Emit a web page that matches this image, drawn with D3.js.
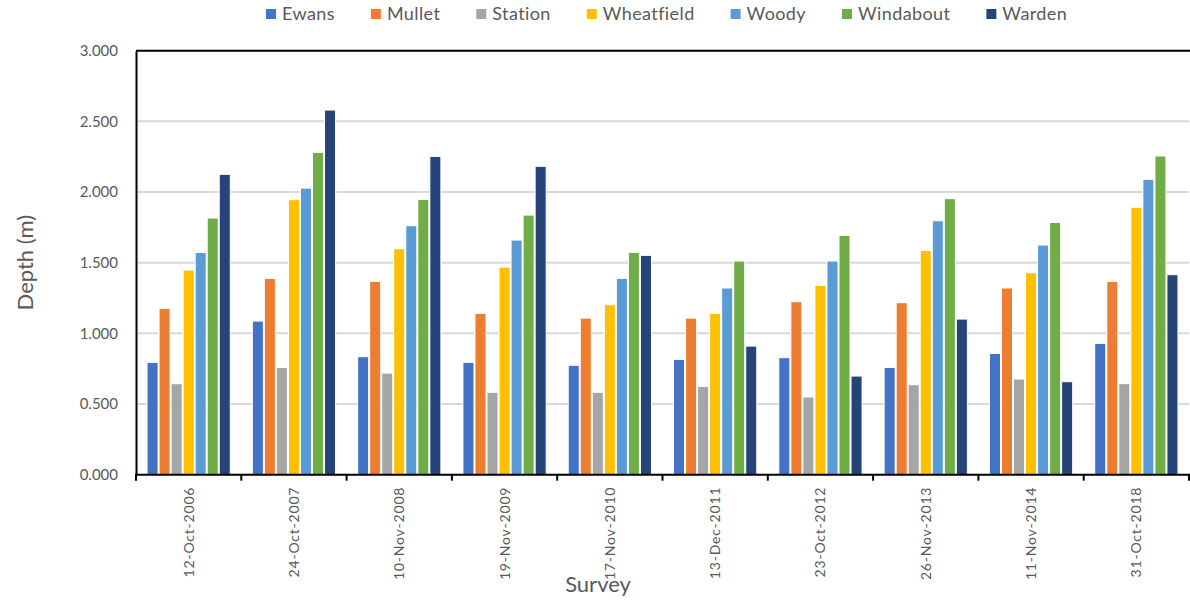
<!DOCTYPE html>
<html>
<head>
<meta charset="utf-8">
<script src="https://cdn.jsdelivr.net/npm/d3@7"></script>
<style>
  html, body { margin: 0; padding: 0; background: #fff; }
  svg { display: block; font-family: Lato, "Open Sans", sans-serif; }
</style>
</head>
<body>
<svg id="chart" width="1190" height="601"></svg>
<script>
// Survey dates (categories)
const surveys = ["12-Oct-2006", "24-Oct-2007", "10-Nov-2008", "19-Nov-2009", "17-Nov-2010",
                 "13-Dec-2011", "23-Oct-2012", "26-Nov-2013", "11-Nov-2014", "31-Oct-2018"];

// Site names (series)
const sites = ["Ewans", "Mullet", "Station", "Wheatfield", "Woody", "Windabout", "Warden"];

// Depth (m) per site, one value per survey
const ewans      = [0.795, 1.087, 0.835, 0.795, 0.774, 0.816, 0.828, 0.759, 0.858, 0.929];
const mullet     = [1.177, 1.389, 1.368, 1.142, 1.108, 1.108, 1.224, 1.217, 1.321, 1.368];
const station    = [0.644, 0.759, 0.719, 0.583, 0.583, 0.625, 0.550, 0.637, 0.677, 0.644];
const wheatfield = [1.448, 1.946, 1.599, 1.469, 1.203, 1.142, 1.340, 1.587, 1.429, 1.892];
const woody      = [1.573, 2.028, 1.762, 1.660, 1.389, 1.321, 1.512, 1.797, 1.625, 2.090];
const windabout  = [1.816, 2.281, 1.948, 1.837, 1.573, 1.512, 1.693, 1.953, 1.785, 2.255];
const warden     = [2.125, 2.580, 2.252, 2.182, 1.552, 0.910, 0.698, 1.101, 0.658, 1.415];

// Y axis ticks
const yTicks = [0, 0.5, 1.0, 1.5, 2.0, 2.5, 3.0];

const seriesValues = [ewans, mullet, station, wheatfield, woody, windabout, warden];
const colors = ["#4472C4", "#ED7D31", "#A5A5A5", "#FFC000", "#5B9BD5", "#70AD47", "#264478"];

const svg = d3.select("#chart");
const margin = { left: 136, right: 1, top: 50.7, bottom: 126.3 };
const width = 1190 - margin.left - margin.right;
const height = 601 - margin.top - margin.bottom;

const g = svg.append("g").attr("transform", `translate(${margin.left},${margin.top})`);

const x0 = d3.scaleBand().domain(surveys).range([0, width]).paddingInner(0.2).paddingOuter(0.1);
const x1 = d3.scaleBand().domain(sites).range([0, x0.bandwidth()]);
const y = d3.scaleLinear().domain([0, 3]).range([height, 0]);
const color = d3.scaleOrdinal().domain(sites).range(colors);

// Horizontal gridlines
g.append("g")
  .selectAll("line")
  .data(yTicks.filter(t => t > 0 && t < 3))
  .join("line")
  .attr("x1", 0).attr("x2", width)
  .attr("y1", d => y(d)).attr("y2", d => y(d))
  .attr("stroke", "#D9D9D9").attr("stroke-width", 2);

// Bars
const rows = surveys.map((s, i) => ({ survey: s, values: sites.map((k, j) => ({ site: k, value: seriesValues[j][i] })) }));

g.append("g")
  .selectAll("g")
  .data(rows)
  .join("g")
  .attr("transform", d => `translate(${x0(d.survey)},0)`)
  .selectAll("rect")
  .data(d => d.values)
  .join("rect")
  .attr("x", d => x1(d.site) + 0.5)
  .attr("width", x1.bandwidth() - 1)
  .attr("y", d => y(d.value))
  .attr("height", d => y(0) - y(d.value))
  .attr("fill", d => color(d.site))
  .attr("stroke", "#fff")
  .attr("stroke-width", 1);

// Plot border: top line
g.append("line")
  .attr("x1", 0).attr("x2", width + 2)
  .attr("y1", 0).attr("y2", 0)
  .attr("stroke", "#000").attr("stroke-width", 2);

// Y axis
const yAxis = d3.axisLeft(y).tickValues(yTicks).tickFormat(d3.format(".3f")).tickSize(0).tickPadding(18);
const yg = g.append("g").call(yAxis);
yg.select(".domain").attr("stroke", "#000").attr("stroke-width", 2);
yg.selectAll("text").attr("fill", "#595959").style("font-size", "15px").style("font-family", "Lato, sans-serif");

// X axis with boundary ticks
const xg = g.append("g").attr("transform", `translate(0,${height})`);
xg.append("line")
  .attr("x1", -1).attr("x2", width + 2)
  .attr("stroke", "#000").attr("stroke-width", 2);
const bounds = surveys.map(s => x0(s) - x0.step() * x0.paddingInner() / 2);
bounds.push(width);
xg.selectAll("line.tick")
  .data(bounds)
  .join("line")
  .attr("class", "tick")
  .attr("x1", d => d).attr("x2", d => d)
  .attr("y1", 0).attr("y2", 6)
  .attr("stroke", "#000").attr("stroke-width", 2);

xg.selectAll("text")
  .data(surveys)
  .join("text")
  .attr("transform", d => `translate(${x0(d) + x0.bandwidth() / 2 + 5},12) rotate(-90)`)
  .attr("text-anchor", "end")
  .attr("fill", "#595959")
  .style("font-size", "14px")
  .style("letter-spacing", "0.8px")
  .text(d => d);

// Axis titles
svg.append("text")
  .attr("transform", `translate(33,${margin.top + height / 2}) rotate(-90)`)
  .attr("text-anchor", "middle")
  .attr("fill", "#595959")
  .style("font-size", "22px")
  .text("Depth (m)");

svg.append("text")
  .attr("x", 598).attr("y", 592)
  .attr("text-anchor", "middle")
  .attr("fill", "#595959")
  .style("font-size", "22px")
  .text("Survey");

// Legend
const legend = svg.append("g").attr("transform", "translate(266,14)");
let lx = 0;
sites.forEach(site => {
  const item = legend.append("g").attr("transform", `translate(${lx},0)`);
  item.append("rect")
    .attr("x", 0).attr("y", -5).attr("width", 10).attr("height", 10)
    .attr("fill", color(site));
  const t = item.append("text")
    .attr("x", 16).attr("y", 6)
    .attr("fill", "#595959")
    .style("font-size", "18px")
    .style("letter-spacing", "0.4px")
    .text(site);
  lx += 16 + t.node().getComputedTextLength() + 36;
});
</script>
</body>
</html>
